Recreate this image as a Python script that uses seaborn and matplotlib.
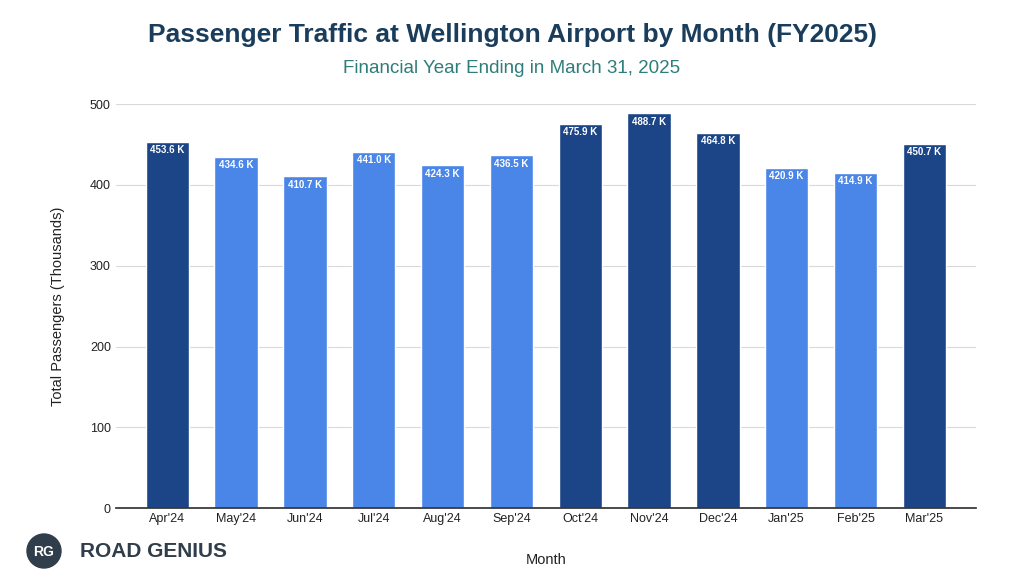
import matplotlib
matplotlib.use("Agg")
import matplotlib.pyplot as plt
import seaborn as sns
import pandas as pd
from matplotlib.patches import Circle

months = ["Apr'24","May'24","Jun'24","Jul'24","Aug'24","Sep'24","Oct'24","Nov'24","Dec'24","Jan'25","Feb'25","Mar'25"]
values = [453.6,434.6,410.7,441.0,424.3,436.5,475.9,488.7,464.8,420.9,414.9,450.7]
labels = ["453.6 K","434.6 K","410.7 K","441.0 K","424.3 K","436.5 K","475.9 K","488.7 K","464.8 K","420.9 K","414.9 K","450.7 K"]
dark = "#1c4587"; light = "#4a86e8"
colors = [dark if v > 450 else light for v in values]

sns.set_theme(style="white")
plt.rcParams['font.family'] = ['Liberation Sans', 'DejaVu Sans']
fig = plt.figure(figsize=(10.24, 5.82), dpi=100)
ax = fig.add_axes([0.113, 0.127, 0.840, 0.694])
df = pd.DataFrame({"Month": months, "v": values})
sns.barplot(data=df, x="Month", y="v", hue="Month", palette=colors, legend=False, ax=ax, width=0.63, saturation=1)
for i, (v, l) in enumerate(zip(values, labels)):
    ax.text(i, v - 4, l, ha="center", va="top", color="white", fontsize=7, fontweight="bold")
ax.set_xlim(-0.75, 11.75)
ax.set_ylim(0, 500)
ax.set_yticks(range(0, 501, 100))
ax.yaxis.grid(True, color="#d9d9d9", linewidth=0.8)
ax.set_axisbelow(True)
for s in ["top", "right", "left"]:
    ax.spines[s].set_visible(False)
ax.spines["bottom"].set_color("#333333")
ax.tick_params(axis="both", labelsize=9, colors="#222222", length=0)
ax.set_xlabel("Month", fontsize=10.5, color="#222222", labelpad=20)
ax.set_ylabel("Total Passengers (Thousands)", fontsize=10.5, color="#222222", labelpad=18)
fig.text(0.5, 0.94, "Passenger Traffic at Wellington Airport by Month (FY2025)", ha="center", va="center",
         fontsize=19, fontweight="bold", color="#1a3d5c")
fig.text(0.5, 0.883, "Financial Year Ending in March 31, 2025", ha="center", va="center", fontsize=13.5, color="#2e7d7a")
c = Circle((0.44, 0.31), 0.17, transform=fig.dpi_scale_trans, color="#2f3e4a", zorder=1)
fig.patches.append(c)
fig.text(0.043, 0.052, "RG", ha="center", va="center", color="white", fontsize=10, fontweight="bold", zorder=10)
fig.text(0.078, 0.052, "ROAD GENIUS", ha="left", va="center", color="#2f3e4a", fontsize=15, fontweight="bold")
fig.savefig("out.png", dpi=100)
